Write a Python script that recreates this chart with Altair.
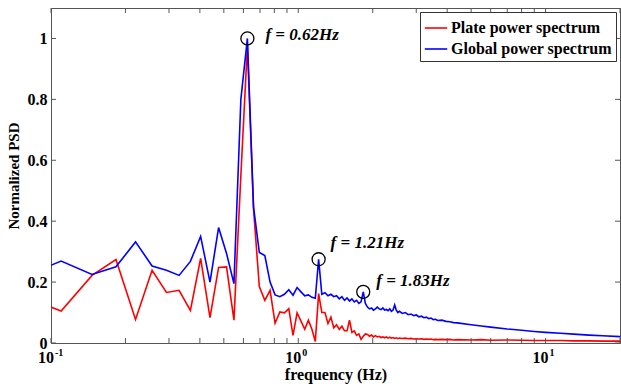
import altair as alt
import pandas as pd

# frequency grid (Hz)
freq = [0.0732, 0.1099, 0.1465, 0.1831, 0.2197, 0.2563, 0.2930, 0.3296, 0.3662,
        0.4028, 0.4395, 0.4761, 0.5127, 0.5493, 0.5859, 0.6226, 0.6592, 0.6958, 0.7324,
        0.7690, 0.8057, 0.8423, 0.8789, 0.9155, 0.9521, 0.9888, 1.0254, 1.0620, 1.0986,
        1.1353, 1.1719, 1.2085, 1.2451, 1.2817, 1.3184, 1.3550, 1.3916, 1.4282, 1.4648,
        1.5015, 1.5381, 1.5747, 1.6113, 1.6479, 1.6846, 1.7212, 1.7578, 1.7944, 1.8311,
        1.8677, 1.9043, 1.9409, 1.9775, 2.0142, 2.0508, 2.0874, 2.1240, 2.1606, 2.1973,
        2.2339, 2.2705, 2.3071, 2.3438, 2.3804, 2.4170, 2.4536, 2.4902, 2.5269, 2.5635,
        2.6367, 2.7100, 2.7832, 2.8564, 2.9297, 3.0029, 3.0762, 3.1494, 3.2227, 3.2959,
        3.3691, 3.4424, 3.5156, 3.5889, 3.6621,
        3.8086, 3.9551, 4.1016, 4.2480, 4.3945,
        5.0, 5.5, 6.0, 7.0, 8.0, 9.0, 10.0, 11.5, 13.0, 15.0, 17.0, 20.0]

global_psd = [0.21, 0.269, 0.225, 0.25, 0.332, 0.253, 0.239, 0.222, 0.268,
              0.35, 0.2, 0.379, 0.294, 0.195, 0.80, 1.0, 0.447, 0.297, 0.287,
              0.2, 0.158, 0.152, 0.16, 0.175, 0.157, 0.182, 0.168, 0.155, 0.158,
              0.15, 0.147, 0.275, 0.16, 0.165, 0.155, 0.16, 0.152, 0.155, 0.145,
              0.152, 0.14, 0.148, 0.138, 0.145, 0.135, 0.14, 0.13, 0.135, 0.168,
              0.13, 0.118, 0.112, 0.115, 0.108, 0.112, 0.118, 0.112, 0.11, 0.115,
              0.108, 0.11, 0.106, 0.112, 0.104, 0.108, 0.125, 0.108, 0.1, 0.104,
              0.097, 0.1, 0.093, 0.095, 0.09, 0.092, 0.086, 0.088, 0.083, 0.085,
              0.08, 0.082, 0.077, 0.078, 0.074,
              0.075, 0.071, 0.07, 0.067, 0.066,
              0.06, 0.056, 0.052, 0.046, 0.042, 0.038, 0.035, 0.032, 0.029, 0.026, 0.024, 0.021]

plate_psd = [0.16, 0.105, 0.222, 0.274, 0.077, 0.239, 0.166, 0.173, 0.107,
             0.278, 0.083, 0.248, 0.25, 0.075, 0.55, 0.975, 0.44, 0.185, 0.14,
             0.173, 0.065, 0.102, 0.099, 0.113, 0.025, 0.099, 0.072, 0.045, 0.075,
             0.045, 0.005, 0.162, 0.1, 0.1, 0.064, 0.085, 0.05, 0.06, 0.045,
             0.055, 0.04, 0.04, 0.075, 0.035, 0.04, 0.025, 0.03, 0.012, 0.022,
             0.03, 0.028, 0.022, 0.026, 0.02, 0.024, 0.02, 0.022, 0.018, 0.02,
             0.017, 0.02, 0.016, 0.019, 0.016, 0.018, 0.015, 0.017, 0.014, 0.016,
             0.015, 0.016, 0.014, 0.015, 0.013, 0.014, 0.013, 0.014, 0.012, 0.013,
             0.012, 0.013, 0.011, 0.012, 0.011,
             0.012, 0.011, 0.012, 0.01, 0.011,
             0.01, 0.011, 0.009, 0.01, 0.009, 0.008, 0.008, 0.008, 0.007, 0.007, 0.006, 0.006]

series_names = ["Plate power spectrum", "Global power spectrum"]
series_colors = ["#ff0000", "#0000ff"]

peak_freq = [0.6226, 1.2085, 1.8311]
peak_psd = [1.0, 0.275, 0.168]
peak_label = ["f = 0.62Hz", "f = 1.21Hz", "f = 1.83Hz"]
peak_dx = [18, 12, 13]
peak_dy = [-3, -16, -11]

x_tick_vals = [0.1, 0.2, 0.3, 0.4, 0.5, 0.6, 0.7, 0.8, 0.9, 1, 2, 3, 4, 5, 6, 7, 8, 9, 10, 20]
x_major = [0.1, 1, 10]
x_major_exp = ["-1", "0", "1"]
y_tick_vals = [0, 0.2, 0.4, 0.6, 0.8, 1]

W, H = 569, 335
FONT = "Liberation Serif"
FRAME = "#555555"

df = pd.DataFrame({
    "freq": freq * 2,
    "psd": plate_psd + global_psd,
    "series": [series_names[0]] * len(freq) + [series_names[1]] * len(freq),
})

xscale = alt.Scale(type="log", domain=[0.1, 20], nice=False)
yscale = alt.Scale(domain=[0, 1.1], nice=False)

base = alt.Chart(df).mark_line(clip=True, strokeWidth=1.6).encode(
    x=alt.X("freq:Q", scale=xscale,
            axis=alt.Axis(labels=False, ticks=False, grid=False, title="frequency (Hz)",
                          titleFont=FONT, titleFontSize=16, titleFontWeight="bold",
                          titleColor="black", titlePadding=23,
                          domainColor=FRAME)),
    y=alt.Y("psd:Q", scale=yscale,
            axis=alt.Axis(values=y_tick_vals, format="~g", ticks=False, grid=False,
                          labelFont=FONT, labelFontSize=16, labelFontWeight="bold",
                          labelColor="black", labelPadding=4,
                          title="Normalized PSD", titleFont=FONT, titleFontSize=15,
                          titleFontWeight="bold", titleColor="black", titlePadding=6,
                          domainColor=FRAME)),
    color=alt.Color("series:N",
                    scale=alt.Scale(domain=series_names, range=series_colors),
                    legend=alt.Legend(title=None, orient="none", legendX=369, legendY=4,
                                      symbolType="stroke", symbolSize=500, symbolStrokeWidth=1.6,
                                      labelFont=FONT, labelFontSize=16, labelFontWeight="bold",
                                      labelColor="black", labelOffset=3, labelLimit=400,
                                      strokeColor="#333333", fillColor="white",
                                      padding=4, rowPadding=1)),
)

plate_line = base.transform_filter(alt.datum.series == series_names[0])
global_line = base.transform_filter(alt.datum.series == series_names[1])

xt = pd.DataFrame({"f": x_tick_vals})
yt = pd.DataFrame({"v": y_tick_vals})
tick_style = dict(color=FRAME, strokeWidth=1)
xb = alt.Chart(xt).mark_rule(**tick_style).encode(
    x=alt.X("f:Q", scale=xscale), y=alt.value(H), y2=alt.value(H - 5))
xtp = alt.Chart(xt).mark_rule(**tick_style).encode(
    x=alt.X("f:Q", scale=xscale), y=alt.value(0), y2=alt.value(5))
yl = alt.Chart(yt).mark_rule(**tick_style).encode(
    y=alt.Y("v:Q", scale=yscale), x=alt.value(0), x2=alt.value(5))
yr = alt.Chart(yt).mark_rule(**tick_style).encode(
    y=alt.Y("v:Q", scale=yscale), x=alt.value(W), x2=alt.value(W - 5))

xl = pd.DataFrame({"f": x_major, "e": x_major_exp})
ten = alt.Chart(xl).mark_text(font=FONT, fontSize=16, fontWeight="bold", align="right",
                              baseline="alphabetic", dx=3, color="black").encode(
    x=alt.X("f:Q", scale=xscale), y=alt.value(H + 20), text=alt.value("10"))
expo = alt.Chart(xl).mark_text(font=FONT, fontSize=10, fontWeight="bold", align="left",
                               baseline="alphabetic", dx=4, color="black").encode(
    x=alt.X("f:Q", scale=xscale), y=alt.value(H + 13), text="e:N")

pk = pd.DataFrame({"f": peak_freq, "p": peak_psd, "t": peak_label,
                   "dx": peak_dx, "dy": peak_dy})
circles = alt.Chart(pk).mark_point(shape="circle", filled=False, size=170,
                                   color="black", strokeWidth=1.3, opacity=1).encode(
    x=alt.X("f:Q", scale=xscale), y=alt.Y("p:Q", scale=yscale))
texts = []
for i in range(len(peak_freq)):
    texts.append(alt.Chart(pk.iloc[[i]]).mark_text(
        font=FONT, fontSize=17, fontWeight="bold", fontStyle="italic", align="left",
        baseline="middle", dx=peak_dx[i], dy=peak_dy[i], color="black").encode(
        x=alt.X("f:Q", scale=xscale), y=alt.Y("p:Q", scale=yscale), text="t:N"))

chart = alt.layer(plate_line, global_line, xb, xtp, yl, yr, ten, expo, circles, *texts).properties(
    width=W, height=H,
    padding={"left": 51, "top": 8, "right": 1, "bottom": 46},
    autosize=alt.AutoSizeParams(type="none"),
    background="white",
).configure_view(stroke=FRAME, strokeWidth=1)

chart.save("out.html", embed_options={"renderer": "svg", "actions": False})
